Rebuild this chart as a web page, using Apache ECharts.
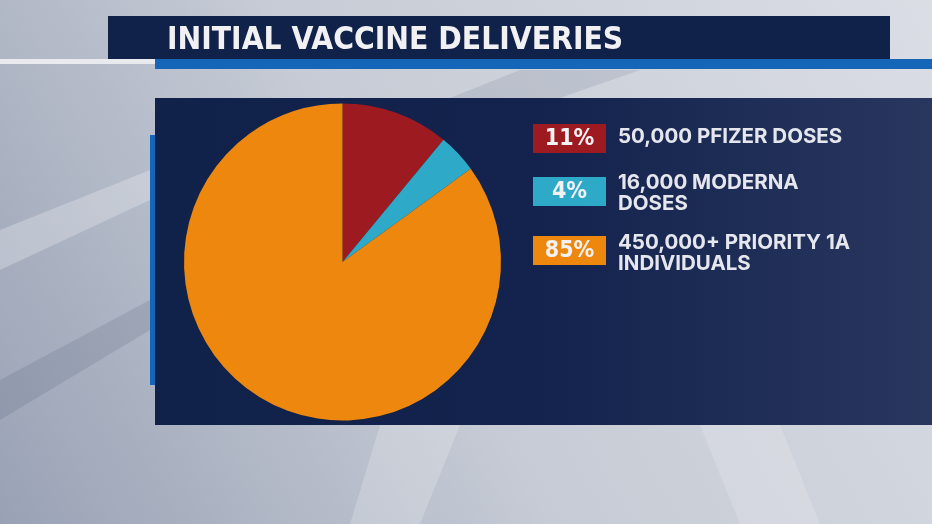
<!DOCTYPE html>
<html>
<head>
<meta charset="utf-8">
<script src="https://cdn.jsdelivr.net/npm/echarts@6/dist/echarts.min.js"></script>
<style>
html,body{margin:0;padding:0;width:932px;height:524px;overflow:hidden;}
#chart{width:932px;height:524px;}
</style>
</head>
<body>
<div id="chart"></div>
<script>
// ---- data ----
const titleText = 'INITIAL VACCINE DELIVERIES';
const categories = ['50,000 PFIZER DOSES', '16,000 MODERNA\nDOSES', '450,000+ PRIORITY 1A\nINDIVIDUALS'];
const shares = [11, 4, 85];
const percentLabels = ['11%', '4%', '85%'];

// ---- styles ----
const sliceColors = ['#9d1a20', '#2eaac8', '#ed870d'];
const navy = '#10214a';
const stripeBlue = '#1565b8';

const chart = echarts.init(document.getElementById('chart'), null, {renderer: 'canvas'});

// legend rows (layout)
const boxX = 533, boxW = 73, boxH = 29;
const rowBoxTop = [124, 177, 236];
const rowTextTop = [127, 173, 233];

const legendElems = [];
categories.forEach((c, i) => {
  legendElems.push({
    type: 'rect', z: 10,
    shape: {x: boxX, y: rowBoxTop[i], width: boxW, height: boxH},
    style: {fill: sliceColors[i]}
  });
  legendElems.push({
    type: 'text', z: 11,
    style: {
      text: percentLabels[i], x: boxX + boxW / 2, y: rowBoxTop[i] + boxH / 2 + 1,
      align: 'center', verticalAlign: 'middle',
      font: 'bold 23px "DejaVu Sans Condensed", "DejaVu Sans"', fill: '#f2f2f4'
    }
  });
  legendElems.push({
    type: 'text', z: 11,
    style: {
      text: c, x: 618, y: rowTextTop[i], align: 'left', verticalAlign: 'top',
      font: 'bold 20.5px Inter', lineHeight: 20.5, fill: '#e6e7ee'
    }
  });
});

const option = {
  animation: false,
  backgroundColor: {
    type: 'linear', x: 1, y: 0, x2: 0, y2: 1,
    colorStops: [
      {offset: 0, color: '#dadde4'},
      {offset: 0.55, color: '#c6cbd5'},
      {offset: 1, color: '#99a2b5'}
    ]
  },
  title: {
    text: titleText,
    left: 162, top: 20,
    textStyle: {
      color: '#f1f1f4', fontSize: 31.5, fontWeight: 'bold',
      fontFamily: '"DejaVu Sans Condensed", "DejaVu Sans"'
    }
  },
  graphic: [
    // background soft shapes
    {type: 'polygon', z: 0, shape: {points: [[0, 230], [150, 170], [150, 200], [0, 270]]}, style: {fill: 'rgba(255,255,255,0.25)'}},
    {type: 'polygon', z: 0, shape: {points: [[0, 380], [150, 300], [150, 330], [0, 420]]}, style: {fill: 'rgba(90,100,125,0.2)'}},
    {type: 'polygon', z: 0, shape: {points: [[380, 425], [460, 425], [420, 524], [350, 524]]}, style: {fill: 'rgba(255,255,255,0.2)'}},
    {type: 'polygon', z: 0, shape: {points: [[700, 425], [780, 425], [820, 524], [740, 524]]}, style: {fill: 'rgba(255,255,255,0.16)'}},
    {type: 'polygon', z: 0, shape: {points: [[520, 70], [640, 70], [560, 98], [450, 98]]}, style: {fill: 'rgba(120,128,150,0.2)'}},
    // title bar
    {type: 'rect', z: 1, shape: {x: 108, y: 16, width: 782, height: 43}, style: {fill: navy}},
    // light strip at left
    {type: 'rect', z: 1, shape: {x: 0, y: 59, width: 155, height: 5}, style: {fill: '#e8eaee'}},
    // blue stripe
    {type: 'rect', z: 1, shape: {x: 155, y: 59, width: 777, height: 10}, style: {fill: stripeBlue}},
    // left blue bar
    {type: 'rect', z: 1, shape: {x: 150, y: 135, width: 5, height: 250}, style: {fill: stripeBlue}},
    // main panel
    {type: 'rect', z: 1, shape: {x: 155, y: 98, width: 777, height: 327},
      style: {fill: {type: 'linear', x: 0, y: 0, x2: 1, y2: 0, colorStops: [
        {offset: 0, color: '#10214a'}, {offset: 0.5, color: '#13234d'}, {offset: 1, color: '#29375f'}]}}}
  ].concat(legendElems),
  series: [{
    type: 'pie',
    center: [342.5, 262],
    radius: 158.5,
    startAngle: 90,
    clockwise: true,
    label: {show: false},
    labelLine: {show: false},
    emphasis: {disabled: true},
    silent: true,
    itemStyle: {borderWidth: 0},
    data: shares.map((v, i) => ({value: v, name: categories[i], itemStyle: {color: sliceColors[i]}}))
  }]
};
chart.setOption(option);
</script>
</body>
</html>
